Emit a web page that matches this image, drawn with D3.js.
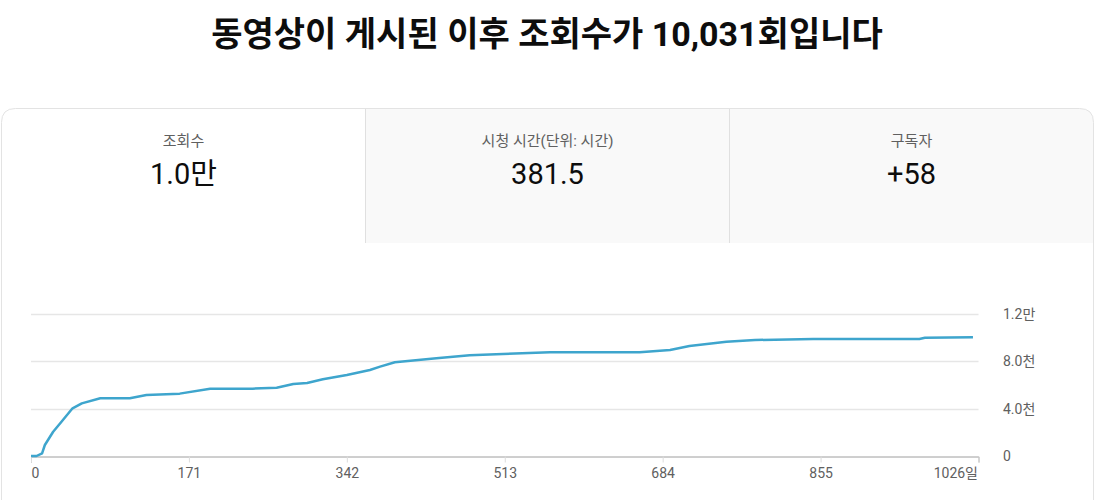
<!DOCTYPE html>
<html>
<head>
<meta charset="utf-8">
<script src="https://cdn.jsdelivr.net/npm/d3@7"></script>
<style>
  body { margin: 0; background: #fff; }
  svg text { font-family: Roboto, "Noto Sans CJK KR", sans-serif; }
</style>
</head>
<body>
<svg id="chart" width="1097" height="500"></svg>
<script>
// summary cards
var cardLabels = ["조회수", "시청 시간(단위: 시간)", "구독자"];
var cardValues = ["1.0만", "381.5", "+58"];

// cumulative views by day since upload
var days  = [0, 6, 12, 15, 24, 33, 45, 55, 75, 107, 125, 161, 194, 240, 266, 284, 299, 316, 342, 367, 378, 394, 439, 475, 511, 562, 659, 692, 713, 753, 784, 847, 962, 968, 1020];
var views = [0, 0, 230, 930, 2050, 2900, 4030, 4450, 4880, 4880, 5150, 5270, 5690, 5690, 5770, 6090, 6170, 6480, 6850, 7270, 7550, 7920, 8260, 8510, 8620, 8760, 8760, 8960, 9300, 9660, 9800, 9890, 9890, 10000, 10031];

var xTicks = [0, 171, 342, 513, 684, 855, 1026];
var yTicks = [0, 4000, 8000, 12000];
var yTickLabels = ["0", "4.0천", "8.0천", "1.2만"];

var svg = d3.select("#chart");

// title
svg.append("text")
    .attr("x", 547).attr("y", 46)
    .attr("text-anchor", "middle")
    .attr("font-size", 34).attr("font-weight", "bold")
    .attr("fill", "#0d0d0d")
    .text("동영상이 게시된 이후 조회수가 10,031회입니다");

// card outline (rounded top corners)
var cx0 = 1.5, cx1 = 1093.5, cy0 = 108.5, r = 14, cyB = 520;
var cardPath = "M" + cx0 + "," + cyB + " V" + (cy0 + r) +
    " Q" + cx0 + "," + cy0 + " " + (cx0 + r) + "," + cy0 +
    " H" + (cx1 - r) + " Q" + cx1 + "," + cy0 + " " + cx1 + "," + (cy0 + r) +
    " V" + cyB;

svg.append("clipPath").attr("id", "cardClip")
  .append("path").attr("d", cardPath + " Z");

var tabW = (cx1 - cx0) / 3;
var tabs = svg.append("g").attr("clip-path", "url(#cardClip)");
tabs.selectAll("rect")
    .data(cardLabels)
    .enter().append("rect")
    .attr("x", function(d, i) { return cx0 + i * tabW; })
    .attr("y", cy0)
    .attr("width", tabW)
    .attr("height", 243 - cy0)
    .attr("fill", function(d, i) { return i == 0 ? "#fff" : "#f9f9f9"; });

// separators
[1, 2].forEach(function(i) {
    svg.append("line")
        .attr("x1", Math.round(cx0 + i * tabW) - 0.5).attr("x2", Math.round(cx0 + i * tabW) - 0.5)
        .attr("y1", cy0).attr("y2", 243)
        .attr("stroke", "#e0e0e0");
});

svg.append("path")
    .attr("d", cardPath)
    .attr("fill", "none")
    .attr("stroke", "#e3e3e3");

svg.selectAll(".card-label")
    .data(cardLabels)
    .enter().append("text")
    .attr("class", "card-label")
    .attr("x", function(d, i) { return cx0 + (i + 0.5) * tabW; })
    .attr("y", 146)
    .attr("text-anchor", "middle")
    .attr("font-size", 15)
    .attr("fill", "#606060")
    .text(function(d) { return d; });

svg.selectAll(".card-value")
    .data(cardValues)
    .enter().append("text")
    .attr("class", "card-value")
    .attr("x", function(d, i) { return cx0 + (i + 0.5) * tabW; })
    .attr("y", 184)
    .attr("text-anchor", "middle")
    .attr("font-size", 29)
    .attr("fill", "#0d0d0d")
    .text(function(d) { return d; });

// chart
var xScale = d3.scaleLinear().domain([0, 1026]).range([31, 978.5]);
var yScale = d3.scaleLinear().domain([0, 12000]).range([456, 314]);

var g = svg.append("g");

// gridlines
g.selectAll(".grid")
    .data(yTicks.slice(1))
    .enter().append("line")
    .attr("class", "grid")
    .attr("x1", xScale(0)).attr("x2", xScale(1026))
    .attr("y1", function(d) { return Math.round(yScale(d)) + 0.5; })
    .attr("y2", function(d) { return Math.round(yScale(d)) + 0.5; })
    .attr("stroke", "#e6e6e6").attr("stroke-width", 1.5);

// x axis
var xAxis = d3.axisBottom(xScale)
    .tickValues(xTicks)
    .tickSize(6)
    .tickPadding(6)
    .tickFormat(function(d) { return d == 1026 ? d + "일" : d; });

var xg = g.append("g")
    .attr("transform", "translate(0," + (Math.round(yScale(0)) + 0.5) + ")")
    .call(xAxis);
xg.select(".domain").attr("stroke", "#9e9e9e");
xg.selectAll(".tick line").attr("stroke", "#dcdcdc");
xg.selectAll(".tick text")
    .attr("font-size", 14).attr("fill", "#606060")
    .attr("font-family", "Roboto, 'Noto Sans CJK KR', sans-serif")
    .attr("text-anchor", function(d) { return d == 1026 ? "end" : (d == 0 ? "start" : "middle"); })
    .attr("dx", function(d) { return d == 1026 ? "-1" : 0; });

// y axis labels on the right
var yAxis = d3.axisRight(yScale)
    .tickValues(yTicks)
    .tickSize(0)
    .tickPadding(0)
    .tickFormat(function(d, i) { return yTickLabels[i]; });
var yg = g.append("g")
    .attr("transform", "translate(1003,0)")
    .call(yAxis);
yg.select(".domain").remove();
yg.selectAll(".tick text")
    .attr("font-size", 14).attr("fill", "#606060")
    .attr("font-family", "Roboto, 'Noto Sans CJK KR', sans-serif");

// line
var data = days.map(function(d, i) { return { day: d, views: views[i] }; });
var line = d3.line()
    .x(function(d) { return xScale(d.day); })
    .y(function(d) { return yScale(d.views); });

g.append("path")
    .datum(data)
    .attr("d", line)
    .attr("fill", "none")
    .attr("stroke", "#3ea5cd")
    .attr("stroke-width", 2.5)
    .attr("stroke-linejoin", "round");
</script>
</body>
</html>
